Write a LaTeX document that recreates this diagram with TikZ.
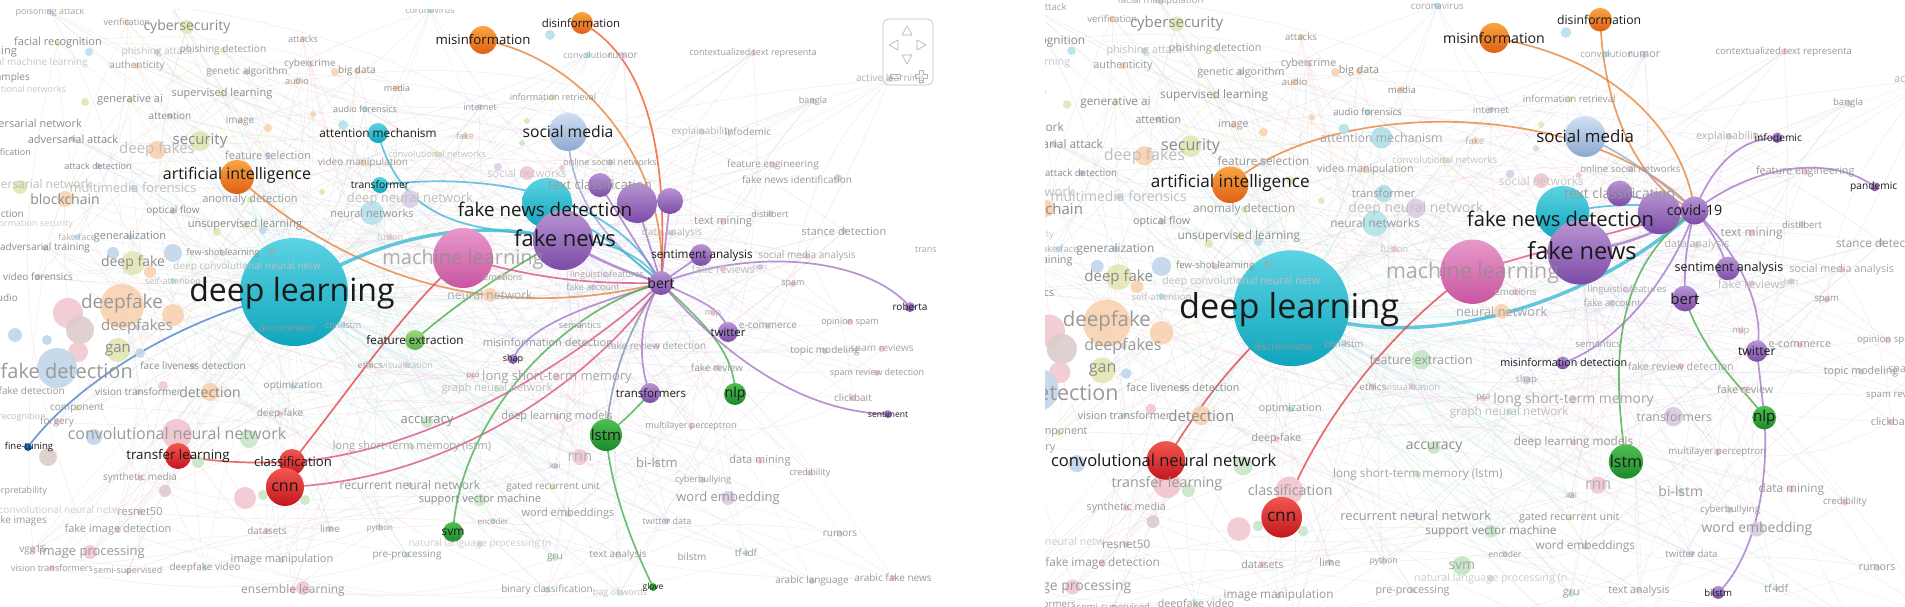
\documentclass[tikz,border=0pt]{standalone}
\usepackage{fontspec}
\setmainfont{Open Sans}
\newcommand\fs[1]{\fontsize{#1pt}{#1pt}\selectfont}
% faded colours
\definecolor{fo}{HTML}{F8D2B0}
\definecolor{fy}{HTML}{E2E6B4}
\definecolor{fb}{HTML}{C2D6EA}
\definecolor{fc}{HTML}{B4E2EA}
\definecolor{fp}{HTML}{DCCDE6}
\definecolor{fk}{HTML}{F2C8D2}
\definecolor{fg}{HTML}{C8E6C8}
\definecolor{fn}{HTML}{DCCCCA}
% bubble colours
\definecolor{cyT}{HTML}{5CD3E3}\definecolor{cyB}{HTML}{0FA5BC}
\definecolor{pkT}{HTML}{E79ACB}\definecolor{pkB}{HTML}{C9559F}
\definecolor{puT}{HTML}{B995D4}\definecolor{puB}{HTML}{7B4BA6}
\definecolor{orT}{HTML}{F9A640}\definecolor{orB}{HTML}{DE5F16}
\definecolor{rdT}{HTML}{F2574F}\definecolor{rdB}{HTML}{C3161D}
\definecolor{grT}{HTML}{4FC04F}\definecolor{grB}{HTML}{1A8A2A}
\definecolor{lgT}{HTML}{9AD87A}\definecolor{lgB}{HTML}{5DB04A}
\definecolor{lbT}{HTML}{CFE0F3}\definecolor{lbB}{HTML}{8EA8CF}
\definecolor{blT}{HTML}{3C80D0}\definecolor{blB}{HTML}{154A95}
% edge colours
\definecolor{eOr}{HTML}{E8853A}
\definecolor{eCy}{HTML}{3DB9D6}
\definecolor{ePu}{HTML}{A678C8}
\definecolor{ePk}{HTML}{D9558A}
\definecolor{eRd}{HTML}{E0474C}
\definecolor{eGr}{HTML}{4CAF50}
\definecolor{eSl}{HTML}{7F93B0}
\definecolor{eBl}{HTML}{4A80D0}
\definecolor{eLb}{HTML}{9AA8DC}
\tikzset{
 fedge/.style={line width=.45pt, opacity=.45},
 hedge/.style={line width=1.7pt, opacity=.8, line cap=round},
 flab/.style={inner sep=0pt},
 hlab/.style={inner sep=0pt, text=black!90},
 bubble/.style={circle, inner sep=0pt},
}
\newcommand\bub[6]{\node[bubble, minimum size={2*#4pt}, top color=#5, bottom color=#6] (#1) at (#2,#3) {};}
\newcommand\hlt[5]{\node[hlab, font=\fs{#4}] (#1) at (#2,#3) {#5};}

\def\NC{120}
\def\clist{50/12/9/35/fb/poisoning attack, 172/6/9/35/fn/facial manipulation, 127/22/9/40/fo/verification,
187/27/14/45/fy/cybersecurity, 58/43/11/45/fy/facial recognition, 157/52/10/25/fb/phishing attack,
223/50/10/40/fy/phishing detection, 303/39/9/40/fo/attacks, 137/66/10/40/fo/authenticity,
247/72/10/40/fb/genetic algorithm, 310/64/10/40/fk/cybercrime, 297/81/9/40/fo/audio,
222/94/11/45/fy/supervised learning, 130/100/11/45/fy/generative ai, 170/116/10/45/fn/attention,
240/121/10/40/fo/image, 73/139/11/45/fb/adversarial attack, 200/141/15/45/fy/security,
157/150/15/25/fo/deep fakes, 268/155/11/40/fb/feature selection, 98/166/9/45/fb/attack detection,
133/188/13/25/fb/multimedia forensics, 65/199/14/45/fo/blockchain, 250/200/11/40/fy/anomaly detection,
173/211/10/45/fn/optical flow, 245/225/11/45/fy/unsupervised learning, 77/237/9/30/fb/fake face,
130/237/11/45/fb/generalization, 45/248/10/45/fb/adversarial training, 223/253/9/45/fn/few-shot learning,
272/251/11/35/fk/ai, 133/263/14/45/fy/deep fake, 247/267/10/25/fc/deep convolutional neural netw,
38/277/10/45/fn/video forensics, 173/281/9/25/fc/self-attention, 122/304/19/40/fo/deepfake,
137/327/15/40/fn/deepfakes, 118/350/15/45/fy/gan, 193/366/10/45/fb/face liveness detection,
138/392/10/45/fg/vision transformer, 210/392/14/45/fo/detection, 293/386/10/40/fc/optimization,
77/408/10/40/fy/component, 57/422/10/40/fk/forgery, 280/414/10/40/fk/deep-fake,
140/478/10/40/fk/synthetic media, 140/512/11/40/fk/resnet50, 118/530/11/40/fk/fake image detection,
267/531/10/40/fk/datasets, 330/529/10/40/fp/lime, 33/550/10/40/fk/vgg16,
92/552/13/40/fk/image processing, 282/560/11/40/fg/image manipulation, 52/568/9/40/fk/vision transformers,
128/571/9/40/fk/semi-supervised, 205/568/10/40/fg/deepfake video, 293/590/12/40/fk/ensemble learning,
287/328/9/40/fc/discriminator, 343/325/9/35/fc/cnn-lstm, 357/71/10/45/fo/big data,
397/88/9/45/fo/media, 553/97/9/40/fy/information retrieval, 365/109/9/45/fc/audio forensics,
480/107/9/40/fp/internet, 465/136/9/30/fo/fake, 437/154/9/25/fy/convolutional networks,
363/163/10/40/fo/video manipulation, 610/162/9/40/fp/online social networks, 527/173/11/22/fk/social networks,
600/185/13/40/fp/text classification, 410/199/13/25/fp/deep neural network, 372/213/11/40/fc/neural networks,
588/55/9/35/fc/convolution, 623/56/10/40/fp/rumor, 430/10/9/35/fc/coronavirus,
390/237/9/22/fk/fusion, 503/277/9/35/fk/emotions, 607/275/9/35/fp/linguistic features,
593/287/9/35/fp/fake account, 490/295/12/35/fo/neural network, 753/53/9/40/fk/contextualized text representa,
890/79/10/30/fp/active learning, 813/101/9/40/fp/bangla, 702/132/10/30/fp/explainability,
773/165/10/40/fk/feature engineering, 770/214/9/40/fp/distilbert, 723/222/11/40/fk/text mining,
672/233/10/30/fp/data analysis, 844/231/11/40/fp/stance detection, 807/256/10/35/fk/social media analysis,
723/269/11/25/fk/fake reviews, 760/267/7/25/fp/bots, 793/284/9/40/fk/spam,
580/325/9/40/fp/semantics, 657/346/10/35/fk/fake review detection, 370/365/9/40/fn/ethics,
407/365/9/25/fp/visualization, 473/376/8/40/fk/pca, 557/377/13/35/fk/long short-term memory,
497/389/11/25/fg/graph neural network, 427/422/13/45/fg/accuracy, 557/417/11/40/fk/deep learning models,
691/426/9/40/fk/multilayer perceptron, 580/457/15/30/fk/rnn, 555/466/8/35/fp/xai,
657/463/13/40/fg/bi-lstm, 410/485/12/40/fp/recurrent neural network, 553/487/10/40/fy/gated recurrent unit,
480/500/11/45/fg/support vector machine, 568/514/11/40/fp/word embeddings, 493/521/8/40/fg/encoder,
380/528/8/40/fg/python, 667/521/9/40/fp/twitter data, 407/555/10/40/fg/pre-processing,
555/558/10/40/fg/gru, 618/555/10/40/fg/text analysis, 547/590/10/40/fg/binary classification,
620/593/9/25/fg/bag of words, 713/313/9/30/fk/mlp, 768/326/10/40/fk/e-commerce,
850/322/9/40/fk/opinion spam, 825/351/10/40/fp/topic modeling, 882/349/10/35/fk/spam reviews,
717/368/10/40/fk/fake review, 877/373/9/40/fk/spam review detection, 853/398/10/40/fk/clickbait,
760/461/11/40/fk/data mining, 810/473/9/40/fk/credibility, 703/480/9/40/fp/cyberbullying,
728/498/13/40/fp/word embedding, 840/534/10/40/fg/rumors, 746/553/10/40/fg/tf-idf,
812/581/10/40/fp/arabic language, 893/578/10/40/fk/arabic fake news}
\def\elist{88/63/10/22/fy/adversarial machine learning, 30/78/10/45/fy/adversarial examples,
66/89/9/22/fy/convolutional networks, 17/52/11/45/fb/morphing, 82/123/11/45/fy/adversarial network,
31/152/9/45/fb/identification, 92/185/12/25/fy/generative adversarial network, 24/214/10/45/fb/detection,
73/224/9/20/fb/information security, 18/298/10/45/fo/audio, 133/373/20/40/fb/deepfake detection,
65/392/10/40/fb/deep-fake detection, 46/417/9/25/fg/face recognition, 47/491/9/40/fb/interpretability,
47/521/10/40/fn/fake images, 120/510/10/20/fk/convolutional neural netw}
\def\blist{187/27/7/fy, 200/141/10/fy, 157/150/9/fo, 65/199/8/fo, 133/263/12/fy, 173/253/9/fb,
113/253/6/fb, 122/306/22/fo, 68/313/15/fk, 80/330/14/fn, 173/315/11/fo, 78/352/10/fk, 15/335/7/fb,
47/340/5/fb, 57/368/20/fb, 118/350/12/fy, 140/353/5/fb, 163/386/5/fk, 210/392/9/fo, 249/439/9/fg,
198/462/6/fg, 94/437/8/fb, 48/457/9/fn, 245/498/11/fk, 263/495/5/fg, 305/500/5/fg, 165/491/6/fn,
90/552/7/fk, 303/588/7/fk, 372/213/12/fc, 410/199/9/fp, 550/35/5/fc, 527/173/7/fk, 490/295/7/fo,
427/422/6/fg, 480/500/6/fg, 580/457/8/fk, 728/498/7/fp, 838/178/4/fp, 20/187/7/fy, 89/52/4/fc,
85/102/4/fy, 268/128/4/fo, 313/114/3/fo, 335/72/4/fo, 263/230/4/fb, 217/232/4/fy, 150/272/6/fo,
293/173/4/fy, 322/192/3/fy, 343/125/5/fc, 527/121/3/fy, 522/143/3/fg, 498/167/4/fp, 562/168/3/fk}

\newcommand\coords{%
\coordinate (dl) at (294,292); \coordinate (ml) at (463,258); \coordinate (fn) at (563,240);
\coordinate (fnd) at (547,203); \coordinate (sm) at (568,132); \coordinate (ai) at (237,177);
\coordinate (mis) at (483,40); \coordinate (dis) at (582,23); \coordinate (bert) at (661,283);
\coordinate (sa) at (701,255); \coordinate (tw) at (728,332); \coordinate (nlp) at (735,394);
\coordinate (lstm) at (606,435); \coordinate (trs) at (650,393); \coordinate (cnn) at (285,487);
\coordinate (cls) at (292,462); \coordinate (tl) at (178,456); \coordinate (fe) at (415,340);
\coordinate (svm) at (453,532); \coordinate (glove) at (653,587); \coordinate (shap) at (513,359);
\coordinate (rob) at (910,307); \coordinate (sent) at (888,414); \coordinate (am) at (378,133);
\coordinate (trf) at (380,185); \coordinate (ft) at (28,447); \coordinate (tc) at (600,185);
\coordinate (pn) at (637,203); \coordinate (cov) at (670,201); \coordinate (info) at (747,133);
\coordinate (pand) at (838,179); \coordinate (misd) at (547,343); \coordinate (bil) at (692,557);
\coordinate (cnet) at (177,434);
\foreach \x/\y/\sz/\gr/\cl/\tx [count=\i] in \clist {\coordinate (c\i) at (\x,\y);}
}
\newcommand\faintedges{%
\foreach \x/\y/\sz/\gr/\cl/\tx [count=\i] in \clist {
  \pgfmathtruncatemacro\j{mod(\i*37,\NC)+1}
  \pgfmathtruncatemacro\k{mod(\i*53+11,\NC)+1}
  \draw[\cl, fedge] (c\i) to[bend left=18] (c\j);
  \draw[\cl, fedge] (c\i) to[bend right=14] (c\k);
  \draw[fc, fedge, opacity=.35] (c\i) to[bend left=8] (dl);
  \ifnum\x>420 \draw[fp, fedge, opacity=.35] (c\i) to[bend right=10] (fn); \fi
}}
\newcommand\faintbubbles{%
\foreach \x/\y/\rr/\cl in \blist {\fill[\cl, opacity=.9] (\x,\y) circle (\rr);}
\foreach \x/\y/\sz/\gr/\cl/\tx [count=\i] in \clist {\fill[\cl] (c\i) circle (3);}
\fill[fg] (412,447) circle (3); \fill[fg] (480,544) circle (3);
}
\newcommand\faintlabels{%
\foreach \x/\y/\sz/\gr/\cl/\tx [count=\i] in \clist {\node[flab, text=black!\gr, font=\fs{\sz}] (ct\i) at (c\i) {\tx};}
\foreach \x/\y/\sz/\gr/\cl/\tx [count=\i] in \elist {\node[flab, anchor=east, text=black!\gr, font=\fs{\sz}] (et\i) at (\x,\y) {\tx};}
\node[flab, text=black!35, font=\fs{11}] (lstml) at (412,447) {long short-term memory (lstm)};
\node[flab, text=black!20, font=\fs{10}] (nlpn) at (480,544) {natural language processing (n};
\node[flab, text=black!45, opacity=.7, font=\fs{20}] (ml-t) at (463,259) {machine learning};
}
\newcommand\sharedbubbles{%
\bub{dl-b}{294}{292}{54}{cyT}{cyB}
\bub{ml-b}{463}{258}{30}{pkT}{pkB}
\bub{fnd-b}{547}{203}{25}{cyT}{cyB}
\bub{fn-b}{563}{240}{30}{puT}{puB}
\bub{sm-b}{568}{132}{19}{lbT}{lbB}
\bub{ai-b}{237}{177}{17}{orT}{orB}
\bub{mis-b}{483}{40}{14}{orT}{orB}
\bub{dis-b}{582}{23}{11}{orT}{orB}
\bub{tc-b}{600}{185}{12}{puT}{puB}
\bub{pn-b}{637}{203}{20}{puT}{puB}
\bub{cov-b}{670}{201}{13}{puT}{puB}
\bub{bert-b}{661}{283}{12}{puT}{puB}
\bub{sa-b}{701}{255}{11}{puT}{puB}
\bub{tw-b}{728}{332}{10}{puT}{puB}
\bub{nlp-b}{735}{394}{11}{grT}{grB}
\bub{lstm-b}{606}{435}{16}{grT}{grB}
\bub{cnn-b}{285}{487}{19}{rdT}{rdB}
}
\newcommand\sharedlabels{%
\hlt{ai-t}{237}{175}{16}{artificial intelligence}
\hlt{mis-t}{483}{40}{13.2}{misinformation}
\hlt{dis-t}{581}{23}{11.4}{disinformation}
\hlt{sm-t}{568}{132}{15.7}{social media}
\hlt{fnd-t}{545}{209}{18.8}{fake news detection}
\hlt{fn-t}{565}{238}{22}{fake news}
\hlt{dl-t}{292}{293}{32}{deep learning}
\hlt{sa-t}{702}{255}{11.7}{sentiment analysis}
\hlt{bert-t}{661}{283}{14}{bert}
\hlt{tw-t}{728}{332}{11.4}{twitter}
\hlt{nlp-t}{735}{394}{14}{nlp}
\hlt{lstm-t}{606}{435}{15}{lstm}
\hlt{cnn-t}{285}{487}{16}{cnn}
}

\begin{document}
\begin{tikzpicture}[x=1pt,y=-1pt]
\useasboundingbox (0,0) rectangle (1905,607);
\fill[white] (0,0) rectangle (1905,607);
%================ LEFT PANEL
\begin{scope}
\clip (0,10) rectangle (935,597);
\begin{scope}[name prefix=L-]
\coords
\faintedges
% highlighted edges
\draw[hedge,eOr] (ai) .. controls (330,260) and (470,330) .. (bert);
\draw[hedge,eOr] (mis) .. controls (590,60) and (670,170) .. (bert);
\draw[hedge,eOr!70!red] (dis) .. controls (650,60) and (668,160) .. (bert);
\draw[hedge,eLb] (sm) .. controls (570,210) and (620,250) .. (bert);
\draw[hedge,eCy] (am) .. controls (420,290) and (600,190) .. (bert);
\draw[hedge,eCy] (trf) .. controls (500,170) and (620,200) .. (bert);
\draw[hedge,eCy,line width=3.5pt] (dl) .. controls (370,240) and (470,215) .. (fn);
\draw[hedge,eBl] (dl) .. controls (170,320) and (70,390) .. (ft);
\draw[hedge,eRd] (cls) .. controls (350,390) and (410,300) .. (ml);
\draw[hedge,eRd] (tl) to[bend right=5] (cls);
\draw[hedge,ePk] (cls) .. controls (450,450) and (600,340) .. (bert);
\draw[hedge,ePk] (cnn) .. controls (470,480) and (610,360) .. (bert);
\draw[hedge,ePu] (bert) .. controls (610,300) and (530,320) .. (shap);
\draw[hedge,eGr] (fe) .. controls (460,300) and (520,262) .. (fn);
\draw[hedge,eGr] (svm) .. controls (460,420) and (560,310) .. (bert);
\draw[hedge,eSl] (lstm) .. controls (612,360) and (640,310) .. (bert);
\draw[hedge,eGr] (lstm) to[bend right=5] (trs);
\draw[hedge,eGr] (lstm) .. controls (612,500) and (640,560) .. (glove);
\draw[hedge,ePu] (bert) .. controls (635,320) and (640,370) .. (trs);
\draw[hedge,ePu] (bert) .. controls (700,300) and (725,310) .. (tw);
\draw[hedge,eGr] (bert) .. controls (700,320) and (735,350) .. (nlp);
\draw[hedge,ePu] (bert) .. controls (710,340) and (790,412) .. (sent);
\draw[hedge,ePu] (bert) .. controls (760,245) and (870,260) .. (rob);
\draw[hedge,ePu] (bert) -- (sa);
\draw[hedge,ePu] (bert) -- (pn);
\draw[hedge,ePu] (bert) -- (cov);
\draw[hedge,ePu] (bert) -- (tc);
\draw[hedge,ePu,line width=2.6pt] (bert) to[bend left=6] (fn);
\draw[hedge,eCy] (bert) to[bend right=6] (fnd);
\draw[hedge,ePk] (bert) to[bend left=8] (ml);
\faintbubbles
\fill[fk] (cnet) circle (15);
\bub{tl-b}{178}{456}{13}{rdT}{rdB}
\bub{cls-b}{292}{462}{13}{rdT}{rdB}
\bub{am-b}{378}{133}{10}{cyT}{cyB}
\bub{trf-b}{380}{185}{8}{cyT}{cyB}
\bub{fe-b}{415}{340}{10}{lgT}{lgB}
\bub{shap-b}{513}{359}{5}{puT}{puB}
\bub{trs-b}{650}{393}{10}{puT}{puB}
\bub{svm-b}{453}{532}{10}{grT}{grB}
\bub{glove-b}{653}{587}{4}{grT}{grB}
\bub{rob-b}{910}{307}{5}{puT}{puB}
\bub{sent-b}{888}{414}{4}{puT}{puB}
\bub{ft-b}{28}{447}{4}{blT}{blB}
\sharedbubbles
\faintlabels
\node[flab, text=black!40, font=\fs{16}] (cnet-f) at (177,433) {convolutional neural network};
\node[flab, text=black!40, font=\fs{11}] (misd-f) at (548,342) {misinformation detection};
\node[flab, text=black!40, font=\fs{10}] (info-f) at (748,132) {infodemic};
\node[flab, text=black!40, font=\fs{10}] (fni-f) at (797,180) {fake news identification};
\node[flab, text=black!40, font=\fs{10}] (bil-f) at (692,557) {bilstm};
\node[flab, text=black!35, font=\fs{9}, anchor=west] (trans-f) at (915,250) {trans};
\sharedlabels
\hlt{am-t}{378}{133}{11.8}{attention mechanism}
\hlt{trf-t}{380}{185}{10.3}{transformer}
\hlt{fe-t}{415}{340}{11.7}{feature extraction}
\hlt{shap-t}{513}{359}{9}{shap}
\hlt{trs-t}{651}{393}{11.5}{transformers}
\hlt{svm-t}{453}{532}{12}{svm}
\hlt{glove-t}{653}{587}{8.5}{glove}
\hlt{rob-t}{910}{307}{10}{roberta}
\hlt{sent-t}{888}{414}{8.5}{sentiment}
\hlt{ft-t}{29}{447}{9.5}{fine-tuning}
\hlt{tl-t}{178}{456}{13.3}{transfer learning}
\hlt{cls-t}{293}{462}{13.1}{classification}
% navigation widget
\draw[black!25, line width=.6pt, rounded corners=6pt] (883,19) rectangle (933,85);
\draw[black!30, line width=.6pt, line join=round] (902,35)--(907,26)--(912,35)--cycle;
\draw[black!30, line width=.6pt, line join=round] (898,40)--(889,45)--(898,50)--cycle;
\draw[black!30, line width=.6pt, line join=round] (917,40)--(926,45)--(917,50)--cycle;
\draw[black!30, line width=.6pt, line join=round] (902,55)--(907,64)--(912,55)--cycle;
\draw[black!30, line width=.6pt] (890,74) rectangle (900,78);
\draw[black!30, line width=.6pt, line join=round] (919,70)--(923,70)--(923,74)--(927,74)--(927,78)--(923,78)--(923,82)--(919,82)--(919,78)--(915,78)--(915,74)--(919,74)--cycle;
\end{scope}
\end{scope}
%================ RIGHT PANEL
\begin{scope}
\clip (1045,0) rectangle (1905,607);
\begin{scope}[shift={(976,-5)}, scale=1.0725, transform shape, name prefix=R-]
\coords
\faintedges
\draw[hedge,eOr] (ai) .. controls (330,95) and (570,95) .. (cov);
\draw[hedge,eOr] (mis) .. controls (600,60) and (660,130) .. (cov);
\draw[hedge,eOr] (dis) .. controls (585,110) and (620,180) .. (cov);
\draw[hedge,eLb] (sm) .. controls (610,150) and (645,180) .. (cov);
\draw[hedge,eCy,line width=3.5pt] (dl) .. controls (400,335) and (560,300) .. (cov);
\draw[hedge,ePk] (ml) .. controls (540,235) and (620,215) .. (cov);
\draw[hedge,ePu,line width=2.5pt] (fn) to[bend right=10] (cov);
\draw[hedge,eCy] (fnd) to[bend left=10] (cov);
\draw[hedge,ePu] (tc) -- (cov);
\draw[hedge,ePu] (pn) -- (cov);
\draw[hedge,eRd] (cnet) to[bend left=8] (dl);
\draw[hedge,eRd] (cnn) .. controls (320,390) and (400,300) .. (ml);
\draw[hedge,ePu] (misd) .. controls (600,325) and (650,260) .. (cov);
\draw[hedge,eGr] (lstm) .. controls (590,330) and (600,250) .. (cov);
\draw[hedge,ePu] (cov) .. controls (690,150) and (720,133) .. (info);
\draw[hedge,ePu] (cov) .. controls (730,155) and (800,150) .. (pand);
\draw[hedge,ePu] (cov) to[bend left=10] (sa);
\draw[hedge,ePu] (cov) to[bend right=8] (bert);
\draw[hedge,ePu] (cov) .. controls (720,250) and (735,300) .. (tw);
\draw[hedge,eGr] (bert) .. controls (680,340) and (720,370) .. (nlp);
\draw[hedge,ePu] (tw) -- (nlp);
\draw[hedge,ePu] (nlp) .. controls (740,470) and (720,530) .. (bil);
\faintbubbles
\fill[fk] (tl) circle (13); \fill[fk] (cls) circle (13);
\fill[fg] (fe) circle (9); \fill[fc] (am) circle (10); \fill[fc] (trf) circle (8);
\fill[fg] (svm) circle (9); \fill[fp] (trs) circle (9); \fill[fp] (shap) circle (4);
\bub{cnet-b}{177}{434}{18}{rdT}{rdB}
\bub{info-b}{747}{133}{5}{puT}{puB}
\bub{pand-b}{838}{179}{4}{puT}{puB}
\bub{misd-b}{547}{343}{6}{puT}{puB}
\bub{bil-b}{692}{557}{6}{puT}{puB}
\sharedbubbles
\faintlabels
\node[flab, text=black!40, font=\fs{13.3}] (tl-f) at (178,456) {transfer learning};
\node[flab, text=black!40, font=\fs{13.3}] (cls-f) at (293,462) {classification};
\node[flab, text=black!40, font=\fs{11.6}] (fe-f) at (415,340) {feature extraction};
\node[flab, text=black!35, font=\fs{9}] (shap-f) at (513,359) {shap};
\node[flab, text=black!40, font=\fs{11.5}] (trs-f) at (651,393) {transformers};
\node[flab, text=black!35, font=\fs{11.5}] (am-f) at (378,133) {attention mechanism};
\node[flab, text=black!40, font=\fs{10.5}] (trf-f) at (380,185) {transformer};
\node[flab, text=black!35, font=\fs{13}] (svm-f) at (453,532) {svm};
\sharedlabels
\hlt{cov-t}{670}{201}{13.3}{covid-19}
\hlt{info-t}{748}{133}{9.5}{infodemic}
\hlt{pand-t}{837}{179}{9.5}{pandemic}
\hlt{misd-t}{548}{343}{10}{misinformation detection}
\hlt{bil-t}{692}{557}{9}{bilstm}
\hlt{cnet-t}{175}{434}{15.4}{convolutional neural network}
\end{scope}
\end{scope}
\end{tikzpicture}
\end{document}
